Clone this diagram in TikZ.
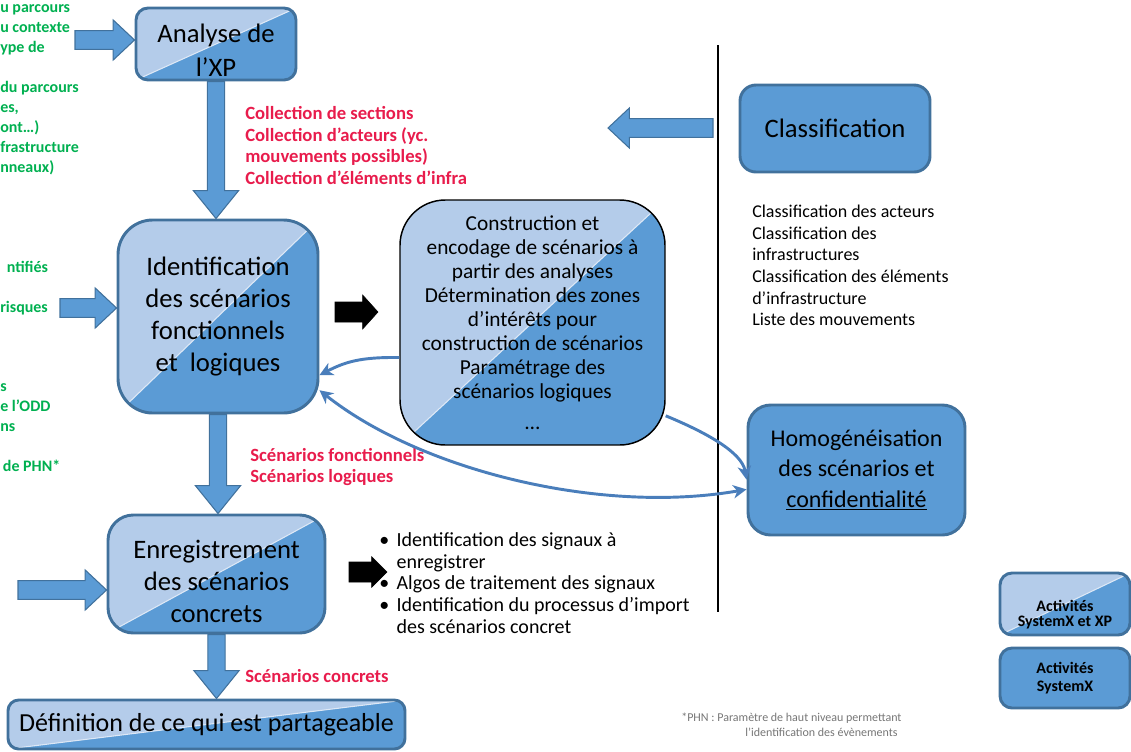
\documentclass[tikz,border=0pt]{standalone}
\usepackage{fontspec}
\setmainfont{Carlito}
\usetikzlibrary{arrows.meta,calc}

\definecolor{lightfill}{RGB}{180,204,234}
\definecolor{darkfill}{RGB}{91,155,213}
\definecolor{boxline}{RGB}{65,113,156}
\definecolor{curveblue}{RGB}{74,126,187}
\definecolor{infored}{RGB}{232,28,76}
\definecolor{inputgreen}{RGB}{0,176,80}
\definecolor{notegray}{RGB}{118,118,118}

\tikzset{
  fa sw/.store in=\fasw, fa hw/.store in=\fahw, fa hl/.store in=\fahl,
  fa sw=7pt, fa hw=15pt, fa hl=16pt,
  bluearrow/.style={fill=darkfill, draw=boxline, line width=0.8pt},
  downarrow/.style={bluearrow, fa sw=6.5pt, fa hw=17pt, fa hl=21pt},
  blackarrow/.style={fill=black, draw=black, line width=0.4pt, fa sw=7.5pt, fa hw=12.75pt, fa hl=11.5pt},
  box size/.style 2 args={minimum width=#1*0.75pt, minimum height=#2*0.75pt},
  blockbase/.style={align=center, inner sep=2pt, text=black},
  duobox/.style={blockbase, rounded corners=#1, draw=boxline, line width=2.2pt,
    path picture={
      \fill[darkfill, sharp corners] (path picture bounding box.south west) rectangle (path picture bounding box.north east);
      \fill[lightfill, sharp corners] (path picture bounding box.south west) -- (path picture bounding box.north east) -- (path picture bounding box.north west) -- cycle;
      \draw[white!55!lightfill, line width=0.8pt] (path picture bounding box.south west) -- (path picture bounding box.north east);
    }},
  solobox/.style={blockbase, rounded corners=#1, draw=boxline, line width=2.2pt, fill=darkfill},
  bigtext/.style={font=\fontsize{20}{24}\selectfont},
  greentext/.style={anchor=west, align=left, inner sep=0pt, text=inputgreen, font=\bfseries\fontsize{12}{15}\selectfont},
  redtext/.style={anchor=west, align=left, inner sep=0pt, text=infored, font=\bfseries\fontsize{14}{16.3}\selectfont},
  listtext/.style={anchor=west, align=left, inner sep=0pt, font=\fontsize{13.5}{16.2}\selectfont},
  cvtip/.tip={Stealth[length=10pt,width=10pt,inset=3pt]},
  curvearrow/.style={draw=curveblue, line width=2.2pt},
  sepline/.style={line width=2.2pt},
}

% block arrow from #2 to #3
\newcommand\fatarrow[3][bluearrow]{%
  \begin{scope}[#1]
    \coordinate (fa-base) at ($(#3)!\fahl!(#2)$);
    \path[#1] ($(#2)!\fasw!90:(#3)$) -- ($(fa-base)!\fasw!-90:(#2)$)
      -- ($(fa-base)!\fahw!-90:(#2)$) -- (#3)
      -- ($(fa-base)!\fahw!90:(#2)$) -- ($(fa-base)!\fasw!90:(#2)$)
      -- ($(#2)!\fasw!-90:(#3)$) -- cycle;
  \end{scope}}

\begin{document}
\begin{tikzpicture}[x=0.75pt,y=-0.75pt]
  \useasboundingbox (0,0) rectangle (1131,751);

  % main boxes
  \node[duobox=9pt, box size={160}{72}, font=\fontsize{20}{25}\selectfont] (ana) at (216,44) {\rule{0pt}{23pt}Analyse de\\l’XP};
  \node[duobox=26pt, box size={200}{193}, bigtext] (ident) at (218,316.5) {Identification\\des scénarios\\fonctionnels\\et~~logiques};
  \node[duobox=34pt, box size={265}{245}, draw=black, line width=1.1pt, font=\fontsize{16}{18}\selectfont] (constr) at (532.5,322.5)
    {Construction et\\encodage de scénarios à\\partir des analyses\\Détermination des zones\\d’intérêts pour\\construction de scénarios\\Paramétrage des\\scénarios logiques\\[5pt]…};
  \node[solobox=12pt, box size={190}{87}, bigtext] (classif) at (835,128.5) {Classification};
  \node[solobox=17pt, box size={217}{130}, font=\fontsize{18}{23}\selectfont] (homog) at (856.5,470) {Homogénéisation\\des scénarios et\\\underline{confidentialité}};
  \node[duobox=19pt, box size={217}{118}, bigtext] (enreg) at (216.5,574) {\rule{0pt}{25pt}Enregistrement\\des scénarios\\concrets};
  \node[duobox=8pt, box size={397}{49}, font=\fontsize{19.5}{23}\selectfont] (defin) at (206.5,724.5) {Définition de ce qui est partageable};

  % legend
  \node[duobox=9pt, box size={130}{62}, font=\bfseries\fontsize{12}{11.5}\selectfont] (legduo) at (1065,604) {\rule{0pt}{24pt}Activités\\SystemX et XP};
  \node[solobox=9pt, box size={130}{60}, font=\bfseries\fontsize{12}{13.5}\selectfont] (legsolo) at (1065,678) {Activités\\SystemX};

  % inputs on the left
  \node[greentext] (inXP) at (0,90) {u parcours\\u contexte\\ype de\\[15pt]du parcours\\es,\\ont…)\\frastructure\\nneaux)};
  \node[greentext] (inRisk) at (0,288) {\hspace*{5pt}ntifiés\\[15pt]risques};
  \node[greentext] (inODD) at (0,427.5) {s\\e l’ODD\\ns\\[15pt]\hspace*{2pt}de PHN*};

  % outputs
  \node[redtext] (outAna) at (245,145.5) {Collection de sections\\Collection d’acteurs (yc.\\mouvements possibles)\\Collection d’éléments d’infra};
  \node[redtext] (outIdent) at (250,467) {Scénarios fonctionnels\\Scénarios logiques};
  \node[redtext] (outEnreg) at (245,676) {Scénarios concrets};

  \node[listtext] (classList) at (752,265.5) {Classification des acteurs\\Classification des\\infrastructures\\Classification des éléments\\d’infrastructure\\Liste des mouvements};
  \node[listtext, font=\fontsize{15}{16.2}\selectfont] (sigList) at (379,583) {\makebox[13pt][l]{•}Identification des signaux à\\\hspace*{13pt}enregistrer\\\makebox[13pt][l]{•}Algos de traitement des signaux\\\makebox[13pt][l]{•}Identification du processus d’import\\\hspace*{13pt}des scénarios concret};
  \node[anchor=west, align=left, inner sep=0pt, text=notegray, font=\fontsize{9}{11.25}\selectfont] (note) at (681,725)
    {*PHN : Paramètre de haut niveau permettant\\\hspace*{48pt}l’identification des évènements};

  % block arrows
  \coordinate (inAna) at (75,40);
  \coordinate (anaIn) at (ana.west |- inAna);
  \fatarrow{inAna}{anaIn}
  \coordinate (inIdent) at (60,308);
  \coordinate (identIn) at (ident.west |- inIdent);
  \fatarrow{inIdent}{identIn}
  \coordinate (inEnreg) at (18,590);
  \coordinate (enregIn) at (enreg.west |- inEnreg);
  \fatarrow{inEnreg}{enregIn}
  \coordinate (identTop) at (ana.south |- ident.north);
  \fatarrow[downarrow]{ana.south}{identTop}
  \coordinate (enregTop) at (ident.south |- enreg.north);
  \fatarrow[downarrow]{ident.south}{enregTop}
  \coordinate (definTop) at (enreg.south |- defin.north);
  \fatarrow[downarrow]{enreg.south}{definTop}
  \coordinate (fromClassif) at (713,128);
  \coordinate (toLeft) at (608,128);
  \fatarrow{fromClassif}{toLeft}

  \coordinate (toConstrS) at (335,312);
  \coordinate (toConstrE) at (378,312);
  \fatarrow[blackarrow]{toConstrS}{toConstrE}
  \coordinate (toListS) at (349,572);
  \coordinate (toListE) at (387,572);
  \fatarrow[blackarrow, fa hw=11.5pt]{toListS}{toListE}

  % separator
  \coordinate (sepTop) at (718,45);
  \coordinate (sepBot) at (718,612);
  \draw[sepline] (sepTop) -- (sepBot);

  % curved links
  \coordinate (constrOut) at ($(constr.west)+(0,35)$);
  \draw[curvearrow, -cvtip] (constrOut) .. controls (360,357) and (345,362) .. (ident.-30);
  \draw[curvearrow, -cvtip] (constr.-35) .. controls (705,432) and (742,452) .. (homog.-175);
  \draw[curvearrow, cvtip-cvtip] (ident.-36) .. controls (420,470) and (600,515) .. (homog.-170);
\end{tikzpicture}
\end{document}
